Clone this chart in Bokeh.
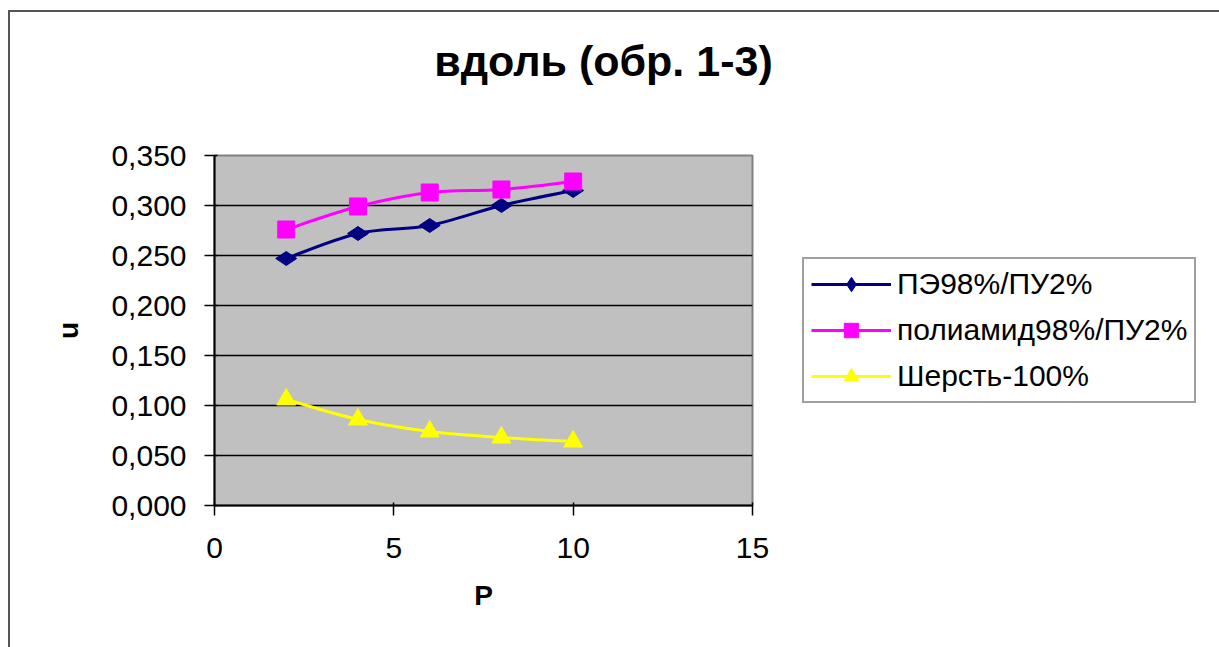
from bokeh.plotting import figure
from bokeh.layouts import column, row
from bokeh.models import Legend, LegendItem, FixedTicker, Label
from bokeh.embed import file_html
from bokeh.resources import INLINE

# Measurements: pressure P and coefficient u for three fabrics
p_values = [2, 4, 6, 8, 10]
pe_pu = [0.247, 0.272, 0.280, 0.300, 0.315]
polyamide_pu = [0.276, 0.299, 0.313, 0.316, 0.324]
wool = [0.106, 0.086, 0.074, 0.068, 0.064]

series_names = ["ПЭ98%/ПУ2%", "полиамид98%/ПУ2%", "Шерсть-100%"]
series_colors = ["#000080", "#FF00FF", "#FFFF00"]
series_markers = ["diamond", "square", "triangle"]

x_ticks = [0, 5, 10, 15]
y_ticks = [0.0, 0.05, 0.1, 0.15, 0.2, 0.25, 0.3, 0.35]
y_tick_labels = ["0,000", "0,050", "0,100", "0,150", "0,200", "0,250", "0,300", "0,350"]

chart_title = "вдоль (обр. 1-3)"
x_label = "P"
y_label = "u"

FONT = "Liberation Sans"

# page geometry (px)
PAD_LEFT, PAD_TOP, FRAME_W = 8, 10, 2
INNER_W = 1219 - PAD_LEFT - FRAME_W
TITLE_H = 100
BODY_H = 647 - PAD_TOP - FRAME_W - TITLE_H
PLOT_W = 780
LEGEND_W = INNER_W - PLOT_W


def smooth_segments(xs, ys):
    """Catmull-Rom style cubic Bezier segments through the points."""
    n = len(xs)
    seg = dict(x0=[], y0=[], x1=[], y1=[], cx0=[], cy0=[], cx1=[], cy1=[])
    for i in range(n - 1):
        xa, ya = xs[max(i - 1, 0)], ys[max(i - 1, 0)]
        xb, yb = xs[i], ys[i]
        xc, yc = xs[i + 1], ys[i + 1]
        xd, yd = xs[min(i + 2, n - 1)], ys[min(i + 2, n - 1)]
        seg["x0"].append(xb)
        seg["y0"].append(yb)
        seg["x1"].append(xc)
        seg["y1"].append(yc)
        seg["cx0"].append(xb + (xc - xa) / 6)
        seg["cy0"].append(yb + (yc - ya) / 6)
        seg["cx1"].append(xc - (xd - xb) / 6)
        seg["cy1"].append(yc - (yd - yb) / 6)
    return seg


def blank_figure(w, h):
    f = figure(width=w, height=h, x_range=(0, 1), y_range=(0, 1),
               x_axis_type=None, y_axis_type=None,
               output_backend="svg", toolbar_location=None, min_border=0,
               background_fill_color="white", border_fill_color="white")
    f.outline_line_color = None
    f.grid.visible = False
    return f


# ---- title strip
pt = blank_figure(INNER_W, TITLE_H)
pt.add_layout(Label(
    x=593, y=52, x_units="screen", y_units="screen", text=chart_title,
    text_align="center", text_baseline="alphabetic",
    text_font=FONT, text_font_size="43px", text_font_style="bold",
    text_color="black",
))

# ---- plot area
p = figure(
    width=PLOT_W, height=BODY_H,
    x_range=(0, 15), y_range=(0, 0.35),
    output_backend="svg", toolbar_location=None,
    min_border_left=204, min_border_right=PLOT_W - 742,
    min_border_top=43, min_border_bottom=142,
    background_fill_color="#C0C0C0", border_fill_color="white",
)
p.outline_line_color = "#808080"
p.outline_line_width = 2

for ax in (p.xaxis, p.yaxis):
    ax.axis_line_color = "black"
    ax.axis_line_width = 2
    ax.major_tick_line_color = "black"
    ax.major_tick_line_width = 1.5
    ax.major_tick_in = 3
    ax.major_tick_out = 10
    ax.minor_tick_line_color = None
    ax.major_label_text_font = FONT
    ax.major_label_text_font_size = "30px"
    ax.major_label_text_color = "black"
    ax.axis_label_text_font = FONT
    ax.axis_label_text_font_style = "bold"
    ax.axis_label_text_font_size = "28px"
    ax.axis_label_text_color = "black"

p.xaxis.ticker = FixedTicker(ticks=x_ticks)
p.yaxis.ticker = FixedTicker(ticks=y_ticks)
p.yaxis.major_label_overrides = dict(zip(y_ticks, y_tick_labels))
p.xaxis.major_label_standoff = 22
p.yaxis.major_label_standoff = 18
p.xaxis.axis_label = x_label
p.yaxis.axis_label = y_label
p.xaxis.axis_label_standoff = 19
p.yaxis.axis_label_standoff = 24

p.xgrid.visible = False
p.ygrid.ticker = FixedTicker(ticks=y_ticks[1:-1])
p.ygrid.grid_line_color = "black"
p.ygrid.grid_line_width = 1.5

angles = [1.570796, 0.0, 0.0]
sizes = [21, 17, 19]
for ys, color, mk, ang, sz in zip([pe_pu, polyamide_pu, wool], series_colors,
                                  series_markers, angles, sizes):
    seg = smooth_segments(p_values, ys)
    p.bezier(x0=seg["x0"], y0=seg["y0"], x1=seg["x1"], y1=seg["y1"],
             cx0=seg["cx0"], cy0=seg["cy0"], cx1=seg["cx1"], cy1=seg["cy1"],
             line_color=color, line_width=3)
    p.scatter(p_values, ys, marker=mk, size=sz, angle=ang,
              fill_color=color, line_color=color)

# ---- legend panel (key glyphs drawn with the same styles)
pl = blank_figure(LEGEND_W, BODY_H)
items = []
for name, color, mk in zip(series_names, series_colors, series_markers):
    ln = pl.line([-2, -1], [-2, -1], line_color=color, line_width=3)
    mr = pl.scatter([-2], [-2], marker=mk, fill_color=color, line_color=color)
    items.append(LegendItem(label=name, renderers=[ln, mr]))

legend = Legend(
    items=items, location=(12, 102),
    label_text_font=FONT, label_text_font_size="30px", label_text_color="black",
    glyph_width=80, glyph_height=36, label_height=36, label_standoff=6,
    spacing=10, padding=7,
    border_line_color="#404040", border_line_width=2,
    background_fill_color="white", background_fill_alpha=1.0,
)
pl.add_layout(legend, "center")

layout = column(pt, row(p, pl, spacing=0), spacing=0)
layout.margin = (PAD_TOP, 0, 0, PAD_LEFT)
layout.styles = {
    "border-left": f"{FRAME_W}px solid #555555",
    "border-top": f"{FRAME_W}px solid #555555",
}

open("out.html", "w").write(file_html(layout, INLINE))
